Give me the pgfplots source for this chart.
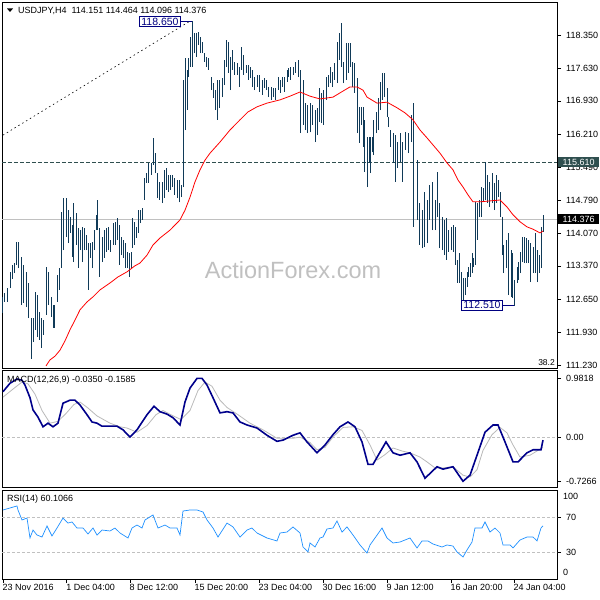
\documentclass[border=0pt]{standalone}
\usepackage{fontspec}
\setmainfont{Liberation Sans}
\usepackage{pgfplots}
\usepackage{pgfplotstable}
\pgfplotsset{compat=1.18}
\definecolor{barcol}{RGB}{16,58,88}
\definecolor{slate}{RGB}{47,79,79}
\definecolor{macdblue}{RGB}{0,0,139}
\definecolor{sig}{RGB}{185,185,185}
\definecolor{rsiblue}{RGB}{30,144,255}
\definecolor{lvl}{RGB}{192,192,192}
\definecolor{wm}{RGB}{192,192,192}
\definecolor{navyc}{RGB}{0,0,128}

\pgfplotstableread{
x lo hi
3 112.35 112.70
5 112.59 112.78
8 112.59 112.89
11 112.89 113.24
13 113.09 113.39
15 113.21 113.43
17 113.39 113.88
19 113.32 113.88
22 112.52 113.56
24 112.57 113.39
27 112.48 113.24
29 112.24 113.00
32 111.36 112.24
34 111.73 112.24
36 111.99 112.80
38 111.83 112.74
40 111.77 112.37
42 111.60 112.24
44 111.88 112.20
47 112.31 113.34
49 112.52 113.24
52 112.27 112.70
54 112.03 112.52
57 112.59 113.17
59 112.85 113.32
61 113.32 114.53
63 113.71 114.83
66 113.99 114.83
68 113.86 114.57
70 114.08 114.42
72 113.56 114.25
73 113.45 114.72
76 113.82 114.51
78 113.32 114.19
80 113.71 114.14
82 113.45 114.21
84 113.71 114.19
86 113.71 114.03
88 112.85 113.86
90 113.54 113.86
92 113.32 113.88
94 113.71 114.14
96 114.14 114.47
97 114.14 114.79
99 113.13 114.19
102 113.45 113.99
104 113.54 114.14
106 113.67 114.19
108 113.71 114.21
110 113.67 113.93
113 113.82 114.29
115 113.82 114.32
117 113.93 114.40
119 113.39 114.25
121 113.60 113.99
123 113.54 113.93
125 113.32 113.86
127 113.32 113.67
129 113.13 113.65
131 113.32 113.67
132 113.75 114.40
134 113.82 114.32
136 113.97 114.21
138 114.08 114.57
140 114.29 114.57
142 114.36 114.62
144 114.79 115.26
146 115.16 115.37
148 115.16 115.59
151 115.33 115.59
153 115.55 116.13
155 115.37 115.80
157 114.83 115.37
159 114.79 115.18
162 114.72 115.18
164 114.83 115.44
166 115.01 115.48
168 114.96 115.33
170 115.01 115.33
172 115.07 115.33
174 114.90 115.26
177 114.83 115.22
179 114.74 115.22
181 114.85 115.11
183 115.07 117.38
185 116.30 117.85
187 116.73 117.60
188 117.44 117.85
190 117.66 118.31
192 117.66 118.65
194 117.96 118.39
196 117.88 118.39
198 118.13 118.41
200 117.96 118.31
202 117.96 118.20
204 117.77 117.96
206 117.66 117.88
208 117.60 117.85
211 117.16 117.44
213 116.99 117.31
215 116.73 117.16
217 116.52 117.38
219 116.78 117.38
222 117.01 117.42
224 117.27 117.81
226 117.66 118.24
228 117.53 118.20
230 117.16 117.88
232 117.60 118.03
234 117.49 117.77
237 117.49 117.75
239 117.23 117.66
241 117.60 118.09
243 117.49 117.92
246 117.53 117.70
248 117.38 117.70
250 117.42 117.66
252 117.23 117.60
254 117.16 117.44
257 117.23 117.49
259 117.12 117.49
262 117.06 117.38
264 117.21 117.42
266 117.16 117.38
268 117.01 117.23
271 116.95 117.23
273 117.01 117.21
275 116.95 117.21
278 117.16 117.44
280 117.10 117.38
282 117.23 117.44
284 117.12 117.44
287 117.34 117.60
288 117.44 117.64
290 117.38 117.66
293 117.49 117.66
295 117.53 117.77
298 117.44 117.81
300 116.23 117.60
303 116.41 117.38
305 116.30 116.88
307 116.23 116.84
310 116.25 116.88
312 116.41 116.84
315 116.04 116.73
317 116.19 116.78
319 116.47 117.21
321 116.45 117.10
323 116.41 117.16
326 116.95 117.44
328 117.23 117.49
330 117.31 117.66
332 117.23 117.55
334 117.38 117.75
337 117.31 118.20
339 117.81 118.39
341 117.66 118.61
343 117.31 117.77
346 117.38 118.18
348 117.53 118.18
350 117.66 118.18
352 117.23 117.77
354 117.10 117.75
357 116.23 117.42
359 116.02 116.80
361 116.41 116.80
363 115.93 116.80
364 115.39 116.52
367 115.07 116.15
369 115.59 116.15
370 115.37 116.15
372 115.82 116.15
373 115.76 116.52
376 116.23 116.69
378 116.30 116.99
380 116.73 117.34
382 116.95 117.53
384 117.01 117.53
387 116.58 117.21
388 116.36 116.58
390 115.93 116.30
393 115.59 116.23
395 115.18 116.19
397 115.48 116.04
400 115.61 116.23
402 115.18 116.04
405 115.87 116.25
408 115.80 116.23
411 116.04 116.62
413 114.21 116.88
417 114.36 115.65
419 113.82 114.72
422 113.75 114.57
424 113.78 114.96
427 113.86 114.79
429 114.36 115.11
432 114.14 115.18
435 114.14 114.79
437 114.42 115.39
439 113.75 114.72
442 113.71 114.42
444 113.60 114.36
446 113.50 114.40
448 113.67 114.14
451 113.71 114.21
453 113.67 114.25
455 113.39 114.21
457 113.00 113.50
459 113.00 113.65
461 112.59 113.24
463 112.51 113.11
465 112.74 113.11
467 112.91 113.24
468 113.13 113.34
470 113.13 113.43
472 113.21 113.65
473 113.34 113.54
475 113.39 114.74
477 113.93 114.72
479 114.42 114.79
481 114.42 115.07
483 114.74 115.05
485 114.79 115.61
487 114.72 115.33
489 114.64 115.18
492 114.72 115.37
494 114.57 115.16
496 114.72 115.33
498 114.85 115.22
500 114.42 114.96
502 113.60 114.42
503 113.21 113.82
506 113.32 113.93
508 112.74 114.08
511 112.70 113.71
512 112.68 113.65
514 112.51 113.06
517 113.00 113.34
518 113.06 113.45
520 113.21 113.67
522 113.45 113.99
524 113.43 113.99
526 113.43 113.97
528 113.43 113.93
530 113.02 113.86
533 113.21 113.78
535 113.21 114.08
537 113.02 113.71
539 113.21 113.60
541 113.32 114.21
543 114.10 114.46
}\bars

\begin{document}
\begin{tikzpicture}[x=1pt,y=1pt]
\node[text=wm, font=\fontsize{23.5}{24}\selectfont] at (293,330) {ActionForex.com};
\pgfplotsset{panel/.style={scale only axis, width=555pt, xmin=2, xmax=557,
  axis line style={black, line width=0.8pt}, tick style={black, line width=0.6pt},
  tick align=outside, major tick length=4pt, ytick pos=right, yticklabel pos=right,
  yticklabel style={anchor=west, font=\fontsize{9}{10}\selectfont, inner sep=0pt, xshift=5pt},
  xticklabel style={anchor=north west, font=\fontsize{9}{10}\selectfont, inner sep=0pt, xshift=-0.5pt, yshift=-1pt},
  anchor=south west}}

% ---------- main price panel ----------
\begin{axis}[panel, at={(2pt,232pt)}, height=366pt, ymin=111.165, ymax=119.062, xtick=\empty,
  ytick={118.35,117.63,116.93,116.21,115.49,114.79,114.07,113.37,112.65,111.93,111.23},
  yticklabels={118.350,117.630,116.930,116.210,115.490,114.790,114.070,113.370,112.650,111.930,111.230}]
\addplot[lvl, line width=0.8pt, forget plot] coordinates {(2,114.376) (557,114.376)};
\addplot[slate, line width=0.8pt, dash pattern=on 4pt off 2pt, forget plot] coordinates {(2,115.61) (557,115.61)};
\addplot[black, line width=0.6pt, dash pattern=on 1.5pt off 3pt, forget plot] coordinates {(3,116.19) (190,118.65)};
\addplot[draw=none, mark=none, forget plot, error bars/.cd, y dir=plus, y explicit, error mark=none,
  error bar style={draw=barcol, line width=1pt}]
  table[x=x, y=lo, y error plus expr=\thisrow{hi}-\thisrow{lo}] {\bars};
\addplot[red, line width=0.8pt, forget plot] coordinates {
(46,111.21) (50,111.34) (55,111.42) (60,111.55) (65,111.75) (70,111.99) (75,112.20) (80,112.42)
(87,112.59) (93,112.70) (100,112.85) (110,113.00) (118,113.13) (127,113.24) (135,113.37) (140,113.43)
(147,113.60) (153,113.82) (160,113.97) (170,114.14) (180,114.36) (185,114.57) (190,114.85) (195,115.18)
(200,115.44) (205,115.65) (210,115.80) (220,116.04) (230,116.30) (240,116.52) (248,116.69) (257,116.80)
(267,116.88) (280,116.95) (290,117.03) (300,117.12) (310,117.03) (320,116.97) (333,117.01) (343,117.14)
(350,117.23) (357,117.23) (363,117.16) (367,117.01) (377,116.88) (387,116.90) (397,116.78) (405,116.67)
(413,116.52) (420,116.30) (427,116.13) (440,115.80) (447,115.59) (453,115.44) (458,115.22) (463,115.07)
(468,114.90) (473,114.75) (480,114.75) (490,114.77) (500,114.79) (507,114.64) (513,114.47) (520,114.32)
(527,114.21) (533,114.16) (540,114.08) (543,114.12)};
\draw[navyc, line width=0.7pt] (axis cs:181,118.65) -- (axis cs:192,118.65);
\draw[navyc, line width=0.7pt] (axis cs:503,112.51) -- (axis cs:514,112.51);
\node[draw=navyc, fill=white, text=navyc, line width=0.7pt, inner xsep=2pt, inner ysep=1.2pt, font=\fontsize{10.5}{11}\selectfont] at (axis cs:160,118.64) {118.650};
\node[draw=navyc, fill=white, text=navyc, line width=0.7pt, inner xsep=2pt, inner ysep=1.2pt, font=\fontsize{10.5}{11}\selectfont] at (axis cs:482,112.52) {112.510};
\end{axis}

% ---------- MACD panel ----------
\begin{axis}[panel, at={(2pt,113pt)}, height=117pt, ymin=-0.815, ymax=1.119, xtick=\empty,
  ytick={0.9818,0,-0.7266}, yticklabels={0.9818,0.00,-0.7266}]
\addplot[lvl, line width=0.7pt, dash pattern=on 3pt off 2pt, forget plot] coordinates {(2,0) (557,0)};
\addplot[sig, line width=0.8pt, forget plot] coordinates {
(3,0.67) (12,0.79) (22,0.92) (28,0.89) (35,0.72) (42,0.45) (50,0.24) (58,0.27) (66,0.40) (74,0.55)
(80,0.59) (88,0.49) (97,0.36) (110,0.24) (120,0.18) (127,0.16) (137,0.09) (147,0.20) (156,0.38) (163,0.45)
(172,0.37) (181,0.30) (190,0.45) (198,0.78) (205,0.92) (212,0.85) (220,0.62) (227,0.50) (238,0.38) (250,0.24)
(263,0.13) (277,-0.01) (293,-0.01) (300,0.01) (310,-0.08) (317,-0.20) (325,-0.16) (333,0.01) (343,0.17) (353,0.18)
(362,0.12) (370,-0.12) (377,-0.37) (385,-0.28) (393,-0.17) (402,-0.22) (410,-0.25) (420,-0.32) (427,-0.40) (435,-0.50)
(443,-0.50) (453,-0.48) (463,-0.62) (470,-0.65) (477,-0.53) (483,-0.21) (492,0.05) (500,0.17) (507,0.08) (513,-0.12)
(520,-0.32) (530,-0.29) (543,-0.16)};
\addplot[macdblue, line width=1.6pt, forget plot] coordinates {
(3,0.76) (10,0.90) (17,0.97) (22,0.95) (25,0.87) (30,0.66) (33,0.46) (38,0.34) (43,0.18) (48,0.24)
(53,0.18) (58,0.24) (63,0.57) (70,0.62) (75,0.62) (80,0.54) (87,0.38) (92,0.26) (97,0.24) (102,0.19)
(117,0.19) (123,0.13) (130,0.01) (137,0.13) (147,0.38) (154,0.52) (160,0.43) (167,0.39) (173,0.33) (180,0.21)
(185,0.59) (190,0.82) (197,0.98) (202,0.98) (207,0.87) (213,0.66) (220,0.41) (227,0.43) (233,0.41) (240,0.26)
(247,0.21) (257,0.16) (267,0.04) (277,-0.06) (283,-0.04) (293,0.04) (300,0.08) (307,-0.07) (317,-0.25) (325,-0.12)
(333,0.05) (340,0.18) (348,0.26) (355,0.18) (362,-0.07) (368,-0.44) (373,-0.44) (380,-0.24) (386,-0.07) (393,-0.25)
(400,-0.29) (410,-0.25) (417,-0.40) (425,-0.67) (437,-0.48) (443,-0.52) (453,-0.48) (463,-0.72) (470,-0.62) (477,-0.29)
(485,0.09) (493,0.21) (498,0.21) (505,-0.07) (513,-0.40) (518,-0.40) (527,-0.25) (533,-0.20) (541,-0.20) (543,-0.04)};
\end{axis}

% ---------- RSI panel ----------
\begin{axis}[panel, at={(2pt,21pt)}, height=89pt, ymin=-0.57, ymax=101.14, xtick pos=bottom,
  ytick={70,30}, yticklabels={70,30},
  xtick={3,66.7,130,195,259,323,387,451,514},
  xticklabels={23 Nov 2016,1 Dec 04:00,8 Dec 12:00,15 Dec 20:00,23 Dec 04:00,30 Dec 16:00,9 Jan 12:00,16 Jan 20:00,24 Jan 04:00}]
\addplot[lvl, line width=0.7pt, dash pattern=on 3pt off 2pt, forget plot] coordinates {(2,70) (557,70)};
\addplot[lvl, line width=0.7pt, dash pattern=on 3pt off 2pt, forget plot] coordinates {(2,30) (557,30)};
\addplot[rsiblue, line width=0.7pt, forget plot] coordinates {
(3,78.3) (10,80.6) (17,82.9) (18,78.3) (22,66.9) (27,69.1) (30,46.3) (33,55.4) (37,49.7) (42,47.4)
(47,60.0) (52,48.6) (57,57.7) (63,69.1) (68,63.4) (72,64.6) (77,57.7) (83,57.7) (88,50.9) (93,57.7)
(97,49.7) (102,55.4) (110,54.3) (115,57.7) (120,52.0) (128,46.3) (132,57.7) (137,61.1) (142,57.7) (145,66.9)
(153,72.6) (158,57.7) (165,61.1) (170,57.7) (177,57.7) (180,49.7) (183,77.1) (190,78.3) (197,78.3) (203,76.0)
(207,66.9) (213,57.7) (218,47.4) (227,63.4) (233,58.9) (240,47.4) (247,55.4) (252,57.7) (257,52.0) (267,46.3)
(277,42.9) (280,52.0) (287,53.1) (293,58.9) (300,52.0) (303,36.0) (308,30.3) (310,40.6) (315,36.0) (320,46.3)
(323,47.4) (327,56.6) (333,57.7) (337,65.7) (342,53.1) (347,58.9) (353,49.7) (360,38.3) (367,29.1) (370,38.3)
(375,46.3) (382,57.7) (387,46.3) (393,40.6) (400,41.7) (410,46.3) (417,34.9) (422,42.9) (428,42.9) (433,39.4)
(442,36.0) (447,38.3) (453,37.1) (457,30.3) (463,24.6) (467,32.6) (472,41.7) (475,57.7) (482,57.7) (485,64.6)
(490,53.1) (495,57.7) (500,52.0) (503,38.3) (510,38.3) (513,34.9) (520,44.0) (527,47.4) (533,47.4) (537,42.9)
(541,57.7) (543,60.1)};
\end{axis}

% ---------- texts ----------
\fill[black] (7,591.5) -- (13,591.5) -- (10,588) -- cycle;
\node[anchor=west, inner sep=0pt, font=\fontsize{9}{10}\selectfont] at (18,589.5) {USDJPY,H4\hspace{5pt}114.151 114.464 114.096 114.376};
\node[anchor=west, inner sep=0pt, font=\fontsize{9}{10}\selectfont] at (7,220) {MACD(12,26,9) -0.0350 -0.1585};
\node[anchor=west, inner sep=0pt, font=\fontsize{9}{10}\selectfont] at (7,101) {RSI(14) 60.1066};
\node[anchor=east, inner sep=0pt, font=\fontsize{8.5}{9}\selectfont] at (555,237) {38.2};
\node[anchor=west, inner sep=0pt, font=\fontsize{9}{10}\selectfont] at (563,103.8) {100};
\node[anchor=west, inner sep=0pt, font=\fontsize{9}{10}\selectfont] at (563,27.5) {0};
\node[anchor=west, fill=slate, text=white, inner xsep=4.5pt, inner ysep=2pt, font=\fontsize{9}{10}\selectfont] at (558,438) {115.610};
\node[anchor=west, fill=black, text=white, inner xsep=4.5pt, inner ysep=2pt, font=\fontsize{9}{10}\selectfont] at (558,381) {114.376};
\pgfresetboundingbox
\path[use as bounding box] (0,0) rectangle (600,600);
\end{tikzpicture}
\end{document}
